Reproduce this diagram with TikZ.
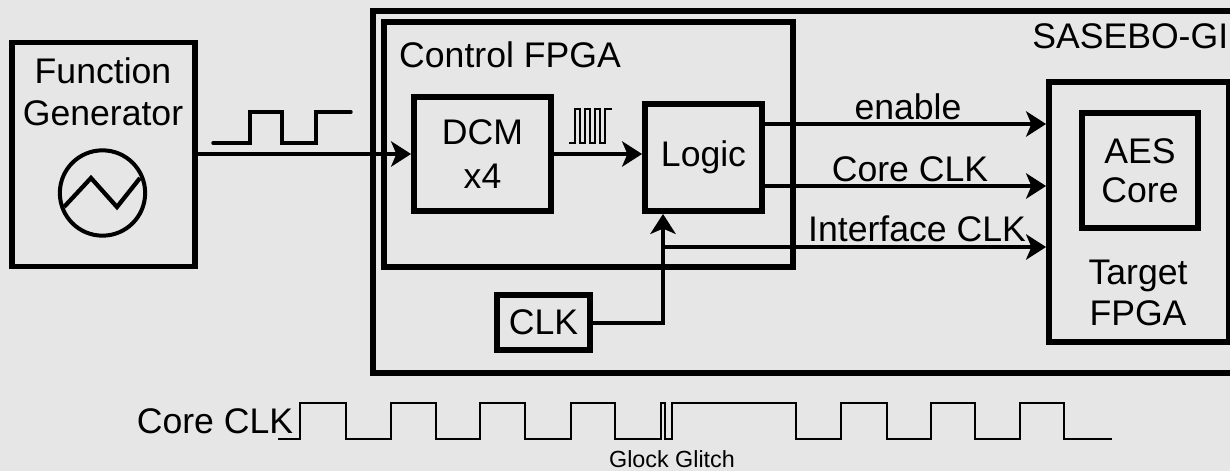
\documentclass[tikz,border=0pt]{standalone}
\usepackage{fontspec}
\setmainfont{Liberation Sans}
\usetikzlibrary{arrows.meta}
\definecolor{bg}{HTML}{E6E6E6}
\tikzset{
  x=0.75pt,y=-0.75pt,
  blk/.style={draw=black,line width=4.4pt,rectangle,inner sep=0pt,line join=miter,font=\fontsize{26.7}{30}\selectfont,align=center},
  lbl/.style={inner sep=0pt,anchor=base,font=\fontsize{26.7}{30}\selectfont},
  conn/.style={line width=3pt,-{Stealth[length=15pt,width=19pt,inset=4pt]}},
  wave/.style={line width=2.6pt,line join=miter,line cap=round},
  corewave/.style={line width=2pt,line join=miter},
}
\begin{document}
\begin{tikzpicture}
\useasboundingbox (0,0) rectangle (1230,471);
\clip (0,0) rectangle (1230,471);
\fill[bg] (0,0) rectangle (1230,471);
% boxes
\node[blk,minimum width=137.25pt,minimum height=168pt] (fg) at (103.5,154.5) {};
\node[blk,minimum width=650pt,minimum height=271.5pt] (board) at (806,192) {};
\node[blk,minimum width=306.75pt,minimum height=183.75pt] (ctrl) at (588.5,144.5) {};
\node[blk,minimum width=102.75pt,minimum height=85.5pt] (dcm) at (482.5,154) {DCM\\[3pt]x4};
\node[blk,minimum width=87.75pt,minimum height=80.25pt] (logic) at (703.5,157.5) {Logic};
\node[blk,minimum width=135pt,minimum height=195pt] (target) at (1139,212) {};
\node[blk,minimum width=87pt,minimum height=86.25pt] (aes) at (1140,170.5) {AES\\[-1pt]Core};
\node[blk,minimum width=69.75pt,minimum height=41.25pt] (clk) at (543.5,322.5) {CLK};
% labels
\node[lbl] (fgt1) at (103,83) {Function};
\node[lbl] (fgt2) at (103,125) {Generator};
\node[lbl] (ctrlt) at (510,67) {Control FPGA};
\node[lbl,anchor=base west] (boardt) at (1032,48) {SASEBO-GII};
\node[lbl] (tgt1) at (1138,284) {Target};
\node[lbl] (tgt2) at (1138,325) {FPGA};
\node[lbl] (ent) at (908,119) {enable};
\node[lbl] (coret) at (910,181) {Core CLK};
\node[lbl] (ift) at (917,241) {Interface CLK};
\node[lbl] (cct) at (215,433) {Core CLK};
\node[lbl,font=\fontsize{17.5}{20}\selectfont] (gl) at (672,467) {Glock Glitch};
% function generator symbol
\node[draw=black,line width=3pt,circle,minimum size=64pt,inner sep=0pt] (osc) at (102.5,193) {};
\draw[line width=3.2pt,line join=miter] (64,207) -- (91,178) -- (117,207) -- (140,178);
% connectors
\coordinate (en) at (0,124);
\coordinate (co) at (0,186);
\coordinate (ifc) at (0,247);
\coordinate (tap) at (663,247);
\draw[conn] (fg.east |- dcm.west) -- (dcm.west);
\draw[conn] (dcm.east) -- (logic.west |- dcm.east);
\draw[conn] (logic.east |- en) -- (target.west |- en);
\draw[conn] (logic.east |- co) -- (target.west |- co);
\draw[conn] (tap) -- (target.west |- ifc);
\draw[conn] (clk.east) -| (tap |- logic.south);
% waveforms
\draw[wave] (213,143) -- (250,143) -- (250,112) -- (282,112) -- (282,143) -- (316,143) -- (316,112) -- (351,112);
\draw[line width=2pt,line join=miter] (569,143) -- (575,143) -- (575,109) -- (580,109) -- (580,143) -- (585,143) -- (585,109) -- (590,109) -- (590,143) -- (595,143) -- (595,109) -- (600,109) -- (600,143) -- (605,143) -- (605,109) -- (612,109);
\draw[corewave] (278,439) -- (300,439) -- (300,403) -- (346,403) -- (346,439) -- (391,439) -- (391,403) -- (436,403) -- (436,439) -- (480,439) -- (480,403) -- (525,403) -- (525,439) -- (571,439) -- (571,403) -- (615,403) -- (615,439) -- (661,439) -- (661,403) -- (665,403) -- (665,439) -- (672,439) -- (672,403) -- (796,403) -- (796,439) -- (841,439) -- (841,403) -- (887,403) -- (887,439) -- (931,439) -- (931,403) -- (975,403) -- (975,439) -- (1020,439) -- (1020,403) -- (1064,403) -- (1064,439) -- (1112,439);
\end{tikzpicture}
\end{document}
